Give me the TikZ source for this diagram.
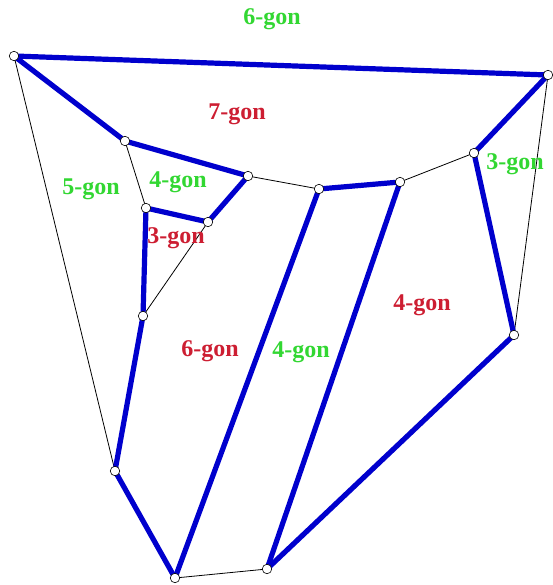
\documentclass[tikz,border=0pt]{standalone}
\usepackage{fontspec}
\setmainfont{Liberation Serif}
\definecolor{gongreen}{RGB}{50,215,50}
\definecolor{gonred}{RGB}{205,30,50}
\definecolor{edgeblue}{RGB}{0,0,205}
\begin{document}
\begin{tikzpicture}[x=1pt,y=-1pt,
  vtx/.style={circle,draw=black,fill=white,line width=0.6pt,inner sep=0pt,minimum size=9.5pt},
  thick edge/.style={draw=edgeblue,line width=5.2pt},
  thin edge/.style={draw=black,line width=0.8pt},
  lbl/.style={font=\fontsize{24}{26}\selectfont\bfseries,inner sep=0pt,anchor=base},
  lblg/.style={lbl,text=gongreen},
  lblr/.style={lbl,text=gonred}]
\useasboundingbox (0,0) rectangle (552,585);
\coordinate (A) at (14,56);
\coordinate (B) at (548,75);
\coordinate (C) at (125,141);
\coordinate (D) at (248,176);
\coordinate (E) at (319,189);
\coordinate (F) at (400,182);
\coordinate (G) at (474,153);
\coordinate (H) at (146,208);
\coordinate (I) at (208,222);
\coordinate (J) at (143,316);
\coordinate (K) at (514,335);
\coordinate (L) at (115,471);
\coordinate (M) at (175,578);
\coordinate (N) at (267,569);
% thin edges
\foreach \p/\q in {A/L,B/K,C/H,I/J,D/E,F/G,M/N}
  \draw[thin edge] (\p) -- (\q);
% thick edges
\foreach \p/\q in {A/B,A/C,B/G,C/D,D/I,H/I,H/J,J/L,L/M,M/E,E/F,F/N,N/K,K/G}
  \draw[thick edge] (\p) -- (\q);
% vertices
\foreach \v in {A,B,C,D,E,F,G,H,I,J,K,L,M,N}
  \node[vtx] (v\v) at (\v) {};
% labels
\node[lblg] (l1) at (272,25) {6-gon};
\node[lblr] (l2) at (237,120) {7-gon};
\node[lblg] (l3) at (91,195) {5-gon};
\node[lblg] (l4) at (178,188) {4-gon};
\node[lblr] (l5) at (176,243) {3-gon};
\node[lblg] (l6) at (515,170) {3-gon};
\node[lblr] (l7) at (422,310) {4-gon};
\node[lblr] (l8) at (210,356) {6-gon};
\node[lblg] (l9) at (301,357) {4-gon};
\end{tikzpicture}
\end{document}
